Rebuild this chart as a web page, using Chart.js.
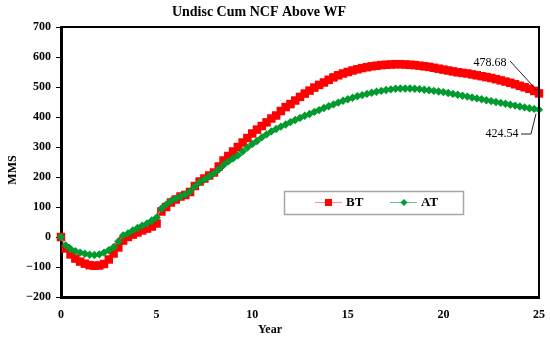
<!DOCTYPE html>
<html>
<head>
<meta charset="utf-8">
<script src="https://cdn.jsdelivr.net/npm/chart.js@4.4.1/dist/chart.umd.min.js"></script>
<style>
  html, body { margin: 0; padding: 0; background: #fff; overflow: hidden; }
  #wrap { position: relative; width: 550px; height: 344px; }
</style>
</head>
<body>
<div id="wrap"><canvas id="ncfChart"></canvas></div>
<script>
// quarterly years 0..25
const years = [
    0, 0.25, 0.5, 0.75, 1, 1.25, 1.5, 1.75, 2, 2.25, 2.5, 2.75, 3, 3.25, 3.5, 3.75,
    4, 4.25, 4.5, 4.75, 5, 5.25, 5.5, 5.75, 6, 6.25, 6.5, 6.75, 7, 7.25, 7.5, 7.75,
    8, 8.25, 8.5, 8.75, 9, 9.25, 9.5, 9.75, 10, 10.25, 10.5, 10.75, 11, 11.25, 11.5, 11.75,
    12, 12.25, 12.5, 12.75, 13, 13.25, 13.5, 13.75, 14, 14.25, 14.5, 14.75, 15, 15.25, 15.5, 15.75,
    16, 16.25, 16.5, 16.75, 17, 17.25, 17.5, 17.75, 18, 18.25, 18.5, 18.75, 19, 19.25, 19.5, 19.75,
    20, 20.25, 20.5, 20.75, 21, 21.25, 21.5, 21.75, 22, 22.25, 22.5, 22.75, 23, 23.25, 23.5, 23.75,
    24, 24.25, 24.5, 24.75, 25
];

const btValues = [
    0, -38, -58, -72, -82, -89, -94, -96, -95, -90, -75, -55, -35, -12, 0, 8,
    15, 22, 28, 35, 45, 85, 100, 115, 125, 135, 140, 150, 170, 185, 195, 205,
    215, 235, 255, 270, 285, 300, 315, 330, 345, 358, 370, 382, 395, 405, 420, 433,
    443, 455, 467, 478, 488, 498, 507, 515, 524, 532, 539, 545, 550, 555, 559, 563,
    566, 569, 571, 573, 574, 575, 576, 576, 575, 574, 573, 571, 569, 567, 564, 561,
    558, 555, 552, 549, 547, 545, 542, 539, 536, 533, 530, 526, 522, 518, 514, 509,
    504, 499, 494, 487, 478.68
];

const atValues = [
    0, -28, -40, -47, -52, -56, -59, -60, -58, -52, -44, -34, -15, 5, 12, 22,
    30, 38, 45, 55, 65, 95, 108, 120, 128, 135, 142, 152, 168, 182, 192, 202,
    212, 225, 240, 252, 262, 272, 285, 298, 310, 320, 332, 342, 352, 360, 368, 375,
    383, 390, 397, 404, 410, 417, 423, 430, 436, 442, 448, 454, 459, 464, 469, 473,
    477, 481, 484, 487, 490, 492, 494, 495, 495, 495, 494, 493, 491, 489, 487, 485,
    483, 480, 477, 474, 471, 468, 465, 462, 459, 456, 453, 450, 447, 444, 441, 438,
    435, 432, 429, 427, 424.54
];

const yTicks = [-200, -100, 0, 100, 200, 300, 400, 500, 600, 700];
const xTicks = [0, 5, 10, 15, 20, 25];

const SERIF = "'Liberation Serif', 'DejaVu Serif', serif";

function toPoints(values) {
    return years.map((x, i) => ({ x: x, y: values[i] }));
}

const overlay = {
    id: "overlay",
    afterDraw(chart) {
        const ctx = chart.ctx;
        const area = chart.chartArea;
        const xs = chart.scales.x;
        const ys = chart.scales.y;
        ctx.save();

        // top and right frame
        ctx.strokeStyle = "#000";
        ctx.lineWidth = 2;
        ctx.beginPath();
        ctx.moveTo(area.left, area.top);
        ctx.lineTo(area.right, area.top);
        ctx.lineTo(area.right, area.bottom);
        ctx.stroke();

        // titles
        ctx.fillStyle = "#000";
        ctx.textAlign = "center";
        ctx.textBaseline = "middle";
        ctx.font = "bold 14px " + SERIF;
        ctx.fillText("Undisc Cum NCF Above WF", 259, 12);
        ctx.font = "bold 12px " + SERIF;
        ctx.fillText("Year", 270, 330);
        ctx.save();
        ctx.translate(13, 170);
        ctx.rotate(-Math.PI / 2);
        ctx.fillText("MMS", 0, 0);
        ctx.restore();

        // end value labels
        const endX = xs.getPixelForValue(years[years.length - 1]);
        const btY = ys.getPixelForValue(btValues[btValues.length - 1]);
        const atY = ys.getPixelForValue(atValues[atValues.length - 1]);
        ctx.font = "12px " + SERIF;
        ctx.textAlign = "center";
        ctx.fillText(btValues[btValues.length - 1].toFixed(2), 490, 63);
        ctx.fillText(atValues[atValues.length - 1].toFixed(2), 502, 134);
        ctx.lineWidth = 1;
        ctx.strokeStyle = "#222";
        ctx.beginPath();
        ctx.moveTo(510, 61);
        ctx.lineTo(endX - 2, btY - 3);
        ctx.moveTo(521, 134);
        ctx.lineTo(531, 134);
        ctx.lineTo(endX - 3, atY + 4);
        ctx.stroke();

        // legend box
        ctx.fillStyle = "#fff";
        ctx.fillRect(284, 191, 179, 23);
        ctx.strokeStyle = "#a6a6a6";
        ctx.lineWidth = 1.5;
        ctx.strokeRect(284.5, 191.5, 179, 23);
        ctx.lineWidth = 1;
        ctx.strokeStyle = "#ff8c8c";
        ctx.beginPath();
        ctx.moveTo(315, 202.5);
        ctx.lineTo(342, 202.5);
        ctx.stroke();
        ctx.fillStyle = "#ff0000";
        ctx.fillRect(325, 199, 7, 7);
        ctx.strokeStyle = "#6cc884";
        ctx.beginPath();
        ctx.moveTo(390, 202.5);
        ctx.lineTo(417, 202.5);
        ctx.stroke();
        ctx.fillStyle = "#009a2e";
        ctx.beginPath();
        ctx.moveTo(404, 199);
        ctx.lineTo(407.5, 202.5);
        ctx.lineTo(404, 206);
        ctx.lineTo(400.5, 202.5);
        ctx.closePath();
        ctx.fill();
        ctx.fillStyle = "#000";
        ctx.font = "bold 13px " + SERIF;
        ctx.textAlign = "left";
        ctx.fillText("BT", 346, 203);
        ctx.fillText("AT", 421, 203);

        ctx.restore();
    }
};

new Chart(document.getElementById("ncfChart"), {
    type: "line",
    data: {
        datasets: [{
            label: "BT",
            data: toPoints(btValues),
            borderColor: "#ff8c8c",
            borderWidth: 1,
            backgroundColor: "#ff0000",
            pointBackgroundColor: "#ff0000",
            pointBorderColor: "#ff0000",
            pointBorderWidth: 0,
            pointStyle: "rect",
            pointRadius: 6,
            clip: false,
            order: 2
        }, {
            label: "AT",
            data: toPoints(atValues),
            borderColor: "#6cc884",
            borderWidth: 1,
            backgroundColor: "#009a2e",
            pointBackgroundColor: "#009a2e",
            pointBorderColor: "#009a2e",
            pointBorderWidth: 0,
            pointStyle: "rectRot",
            pointRadius: 4.2,
            clip: false,
            order: 1
        }]
    },
    options: {
        responsive: true,
        maintainAspectRatio: false,
        animation: false,
        layout: { padding: { left: 0, right: 11, top: 27, bottom: 0 } },
        plugins: {
            legend: { display: false },
            title: { display: false },
            tooltip: { enabled: false }
        },
        scales: {
            x: {
                type: "linear",
                min: 0,
                max: 25,
                afterBuildTicks(scale) {
                    scale.ticks = xTicks.map(v => ({ value: v }));
                },
                afterFit(scale) {
                    scale.height = 47;
                    scale.paddingLeft = 0;
                    scale.paddingRight = 0;
                },
                grid: { display: false, drawTicks: false },
                border: { display: true, color: "#000", width: 3 },
                ticks: {
                    padding: 11,
                    color: "#000",
                    font: { family: SERIF, size: 12, weight: "bold" },
                    maxRotation: 0
                }
            },
            y: {
                min: -200,
                max: 700,
                afterBuildTicks(scale) {
                    scale.ticks = yTicks.map(v => ({ value: v }));
                },
                afterFit(scale) {
                    scale.width = 61;
                    scale.paddingTop = 0;
                    scale.paddingBottom = 0;
                },
                grid: {
                    drawOnChartArea: false,
                    drawTicks: true,
                    tickLength: 5,
                    color: "#000",
                    lineWidth: 1
                },
                border: { display: true, color: "#000", width: 3 },
                ticks: {
                    padding: 5,
                    color: "#000",
                    font: { family: SERIF, size: 12, weight: "bold" },
                    callback: v => (v < 0 ? "\u2212" + Math.abs(v) : String(v))
                }
            }
        }
    },
    plugins: [overlay]
});
</script>
</body>
</html>
